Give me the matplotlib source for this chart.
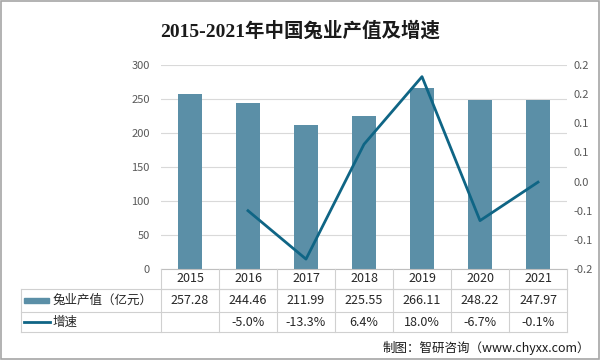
import math
import matplotlib
matplotlib.use("Agg")
import matplotlib.pyplot as plt
from matplotlib.transforms import blended_transform_factory
from matplotlib.ticker import FuncFormatter, MultipleLocator
from matplotlib.patches import Rectangle
from matplotlib.lines import Line2D

plt.rcParams['font.family'] = ['Noto Sans CJK SC', 'DejaVu Sans']

years = ['2015', '2016', '2017', '2018', '2019', '2020', '2021']
output_value = [257.28, 244.46, 211.99, 225.55, 266.11, 248.22, 247.97]
growth_years = ['2016', '2017', '2018', '2019', '2020', '2021']
growth = [-0.050, -0.133, 0.064, 0.180, -0.067, -0.001]
growth_labels = ['', '-5.0%', '-13.3%', '6.4%', '18.0%', '-6.7%', '-0.1%']
series_names = ['兔业产值（亿元）', '增速']
title = '2015-2021年中国兔业产值及增速'
source = '制图：智研咨询（www.chyxx.com）'

bar_color = '#5B8FA7'
line_color = '#0F6585'
grid_color = '#D9D9D9'
tick_color = '#595959'
text_color = '#262626'

W, H = 600, 360
fig = plt.figure(figsize=(6, 3.6), dpi=100)

def fx(px):
    return px / W

def fy(py):
    return 1 - py / H

left, right, top, bottom = 161, 567, 65, 269
ax = fig.add_axes([fx(left), fy(bottom), fx(right) - fx(left), fy(top) - fy(bottom)])
x = list(range(len(years)))
ax.bar(x, output_value, width=0.43, color=bar_color, zorder=2)
ax.set_xlim(-0.5, len(years) - 0.5)
ax.set_ylim(0, 300)
ax.yaxis.set_major_locator(MultipleLocator(50))
ax.grid(axis='y', color=grid_color, linewidth=0.8, zorder=0)
ax.set_axisbelow(True)
for s in ['top', 'right', 'left']:
    ax.spines[s].set_visible(False)
ax.spines['bottom'].set_color('#BFBFBF')
ax.spines['bottom'].set_linewidth(0.8)
ax.set_xticks([])
ax.tick_params(axis='y', length=0, labelsize=8, labelcolor=tick_color, pad=8)

ax2 = ax.twinx()
gx = [years.index(y) for y in growth_years]
ax2.plot(gx, growth, color=line_color, linewidth=2.0, zorder=3)
ax2.set_ylim(-0.15, 0.2)
ax2.yaxis.set_major_locator(MultipleLocator(0.05))

def excel_fmt(v, pos):
    s = -1 if v < 0 else 1
    r = s * math.floor(abs(v) * 10 + 0.5 + 1e-9) / 10
    if r == 0:
        return '0.0'
    return f'{r:.1f}'

ax2.yaxis.set_major_formatter(FuncFormatter(excel_fmt))
for s in ['top', 'right', 'left', 'bottom']:
    ax2.spines[s].set_visible(False)
ax2.tick_params(axis='y', length=0, labelsize=8, labelcolor=tick_color, pad=5)

# Data table
tr = blended_transform_factory(ax.transData, fig.transFigure)
row_y = [269, 289, 312, 332]
tab_left = 21
lc = '#D0D0D0'
lw = 0.8
fig.add_artist(Line2D([fx(left), fx(right)], [fy(row_y[1])] * 2, color=lc, lw=lw))
for yy in row_y[1:]:
    fig.add_artist(Line2D([fx(tab_left), fx(right)], [fy(yy)] * 2, color=lc, lw=lw))
for i in range(len(years) + 1):
    fig.add_artist(Line2D([i - 0.5, i - 0.5], [fy(row_y[0]), fy(row_y[3])],
                          transform=tr, color=lc, lw=lw))
fig.add_artist(Line2D([fx(tab_left)] * 2, [fy(row_y[1]), fy(row_y[3])], color=lc, lw=lw))

def mid(a, b):
    return fy((a + b) / 2)

for i, yr in enumerate(years):
    fig.text(i, mid(row_y[0], row_y[1]), yr, transform=tr, ha='center', va='center',
             fontsize=9, color=text_color)
    fig.text(i, mid(row_y[1], row_y[2]), f'{output_value[i]:.2f}', transform=tr,
             ha='center', va='center', fontsize=9, color=text_color)
    fig.text(i, mid(row_y[2], row_y[3]), growth_labels[i], transform=tr,
             ha='center', va='center', fontsize=9, color=text_color)

fig.add_artist(Rectangle((fx(24), fy(303)), fx(49) - fx(24), fy(298) - fy(303), color=bar_color))
fig.text(fx(53), mid(row_y[1], row_y[2]), series_names[0], ha='left', va='center', fontsize=9, color=text_color)
fig.add_artist(Line2D([fx(24), fx(50)], [mid(row_y[2], row_y[3])] * 2, color=line_color, lw=2.0))
fig.text(fx(53), mid(row_y[2], row_y[3]), series_names[1], ha='left', va='center', fontsize=9, color=text_color)

fig.text(0.5, fy(31), title, ha='center', va='center', fontsize=14, fontweight='bold', color='#1a1a1a',
         family=['Liberation Serif', 'Noto Sans CJK SC'])
fig.text(fx(590), fy(348), source, ha='right', va='center', fontsize=9, color='#1a1a1a')

fig.add_artist(Rectangle((0.001, 0.002), 0.997, 0.996, fill=False, edgecolor='#A6A6A6', lw=1.2,
                         transform=fig.transFigure))

fig.savefig('out.png', dpi=100)
